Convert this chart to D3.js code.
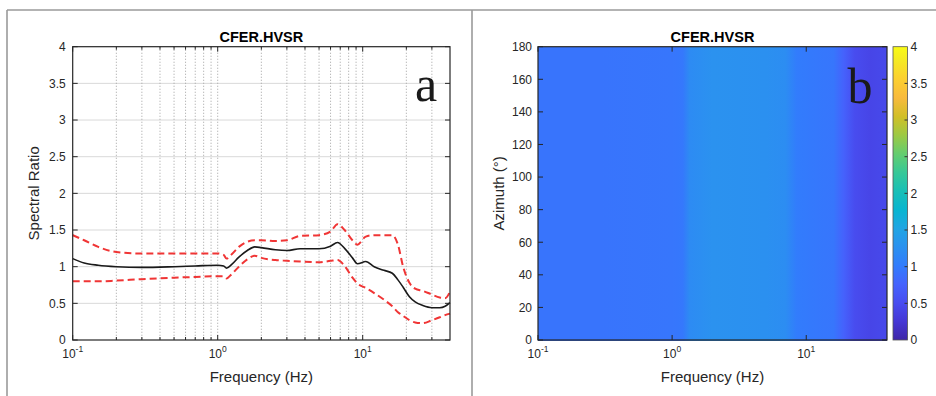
<!DOCTYPE html>
<html><head><meta charset="utf-8">
<script src="https://cdn.jsdelivr.net/npm/d3@7"></script>
<style>
body{margin:0;background:#fff}
svg{display:block}
text{font-family:"Liberation Sans",Arial,Helvetica,sans-serif;fill:#262626}
</style>
</head><body>
<svg id="chart" width="936" height="396"></svg>
<script>
// ---------- data ----------
const freq = [0.1,0.12,0.15,0.2,0.3,0.5,0.7,1.0,1.1,1.15,1.25,1.4,1.6,1.8,2.0,2.5,3.0,3.7,5.0,6.0,6.7,7.5,8.5,9.2,10.5,12,14,16,17.5,19,21,23,26,30,34,37,40];
const meanRatio = [1.11,1.05,1.02,1.00,0.99,1.00,1.01,1.02,1.01,0.98,1.03,1.13,1.22,1.27,1.26,1.23,1.22,1.245,1.245,1.28,1.33,1.25,1.12,1.04,1.07,1.00,0.95,0.91,0.82,0.72,0.59,0.52,0.47,0.44,0.44,0.46,0.51];
const upperRatio = [1.43,1.36,1.27,1.20,1.18,1.18,1.18,1.18,1.16,1.11,1.17,1.27,1.34,1.36,1.36,1.35,1.36,1.42,1.43,1.48,1.58,1.50,1.36,1.30,1.41,1.43,1.43,1.43,1.30,1.00,0.78,0.70,0.67,0.62,0.58,0.57,0.66];
const lowerRatio = [0.80,0.80,0.80,0.81,0.83,0.85,0.86,0.87,0.87,0.84,0.90,1.00,1.10,1.15,1.12,1.09,1.08,1.07,1.06,1.08,1.09,1.01,0.85,0.77,0.71,0.64,0.55,0.46,0.38,0.33,0.27,0.24,0.23,0.27,0.31,0.34,0.36];
const yTicksA = [0,0.5,1,1.5,2,2.5,3,3.5,4];
const yTickLabelsA = ["0","0.5","1","1.5","2","2.5","3","3.5","4"];
const xMajor = [0.1,1,10];
const xMajorExp = ["-1","0","1"];
const xMinor = [0.2,0.3,0.4,0.5,0.6,0.7,0.8,0.9,2,3,4,5,6,7,8,9,20,30];

const heatFreq = [0.1,0.3,1.0,1.2,1.35,2.0,5.0,7.0,8.5,12,16,19,23,30,40];
const heatValues = [0.93,0.93,0.95,0.98,1.2,1.28,1.26,1.22,1.02,0.98,0.95,0.75,0.5,0.42,0.46];
const azimuthBins = [0,10,20,30,40,50,60,70,80,90,100,110,120,130,140,150,160,170];
const yTicksB = [0,20,40,60,80,100,120,140,160,180];
const cbTicks = [0,0.5,1,1.5,2,2.5,3,3.5,4];
const cbTickLabels = ["0","0.5","1","1.5","2","2.5","3","3.5","4"];
const parula = [[0.2422,0.1504,0.6603],[0.2706,0.2147,0.8364],[0.2813,0.3006,0.9414],[0.2699,0.3892,0.9906],[0.1963,0.4847,0.9892],[0.1687,0.5703,0.9359],[0.1248,0.6459,0.8883],[0.0297,0.7082,0.8163],[0.0964,0.7500,0.7120],[0.2161,0.7843,0.5923],[0.3909,0.8029,0.4354],[0.6174,0.7876,0.2612],[0.8203,0.7498,0.1535],[0.9728,0.7298,0.2394],[0.9892,0.8136,0.1885],[0.9597,0.9135,0.1423],[0.9769,0.9839,0.0805]];
const parulaPos = [0,4,8,12,16,20,24,28,32,36,40,44,48,52,56,60,63];

// ---------- setup ----------
const svg = d3.select("#chart");
const defs = svg.append("defs");
const plotTop = 46.7, plotBottom = 340;
const TICK_FS = 12, LABEL_FS = 15, TITLE_FS = 14.5;
const parulaColors = parula.map(c => d3.rgb(c[0]*255,c[1]*255,c[2]*255).formatHex());
const cInterp = d3.scaleLinear().domain(parulaPos.map(p => p/63*4)).range(parulaColors).interpolate(d3.interpolateRgb).clamp(true);

// outer frame
const frame = svg.append("g").attr("stroke","#9a9a9a").attr("stroke-width",1.6);
frame.append("line").attr("x1",7).attr("x2",936).attr("y1",10).attr("y2",10);
frame.append("line").attr("x1",7).attr("x2",7).attr("y1",10).attr("y2",396);
frame.append("line").attr("x1",472).attr("x2",472).attr("y1",10).attr("y2",396);

function logLabels(g, scale, y) {
  xMajor.forEach((v,i) => {
    const t = g.append("text").attr("x", scale(v)).attr("y", y).attr("text-anchor","middle").attr("font-size",TICK_FS);
    t.append("tspan").text("10");
    t.append("tspan").attr("dy",-6).attr("font-size",8.5).text(xMajorExp[i]);
  });
}

// ---------- panel a ----------
const xA = d3.scaleLog().domain([0.1,40]).range([72.7,450]);
const yA = d3.scaleLinear().domain([0,4]).range([plotBottom, plotTop]);
const gA = svg.append("g");

// grid
gA.append("g").selectAll("line").data(yTicksA.slice(1,-1)).join("line")
  .attr("x1",xA.range()[0]).attr("x2",xA.range()[1])
  .attr("y1",d=>yA(d)).attr("y2",d=>yA(d))
  .attr("stroke","#d9d9d9").attr("stroke-width",1);
gA.append("g").selectAll("line").data(xMinor.concat([1,10])).join("line")
  .attr("x1",d=>xA(d)).attr("x2",d=>xA(d)).attr("y1",plotTop).attr("y2",plotBottom)
  .attr("stroke","#a8a8a8").attr("stroke-width",0.9).attr("stroke-dasharray","1.2,1.8");

// lines
const lineA = d3.line().x((d,i)=>xA(freq[i])).y(d=>yA(d)).curve(d3.curveMonotoneX);
gA.append("path").attr("d",lineA(upperRatio)).attr("fill","none").attr("stroke","#f03535").attr("stroke-width",2).attr("stroke-dasharray","7,4");
gA.append("path").attr("d",lineA(lowerRatio)).attr("fill","none").attr("stroke","#f03535").attr("stroke-width",2).attr("stroke-dasharray","7,4");
gA.append("path").attr("d",lineA(meanRatio)).attr("fill","none").attr("stroke","#1a1a1a").attr("stroke-width",1.6);

// axes ticks
function ticksA(){
  const g = gA.append("g").attr("stroke","#262626");
  [[plotBottom,-1],[plotTop,1]].forEach(([yy,dir])=>{
    g.append("g").selectAll("line").data(xMajor).join("line")
      .attr("x1",d=>xA(d)).attr("x2",d=>xA(d)).attr("y1",yy).attr("y2",yy+dir*5);
    g.append("g").selectAll("line").data(xMinor).join("line")
      .attr("x1",d=>xA(d)).attr("x2",d=>xA(d)).attr("y1",yy).attr("y2",yy+dir*3);
  });
  [[xA.range()[0],1],[xA.range()[1],-1]].forEach(([xx,dir])=>{
    g.append("g").selectAll("line").data(yTicksA).join("line")
      .attr("x1",xx).attr("x2",xx+dir*5).attr("y1",d=>yA(d)).attr("y2",d=>yA(d));
  });
}
ticksA();
gA.append("rect").attr("x",xA.range()[0]).attr("y",plotTop).attr("width",xA.range()[1]-xA.range()[0]).attr("height",plotBottom-plotTop)
  .attr("fill","none").attr("stroke","#262626").attr("stroke-width",1.2);

gA.append("g").selectAll("text").data(yTicksA).join("text")
  .attr("x",xA.range()[0]-7).attr("y",d=>yA(d)+4.3).attr("text-anchor","end").attr("font-size",TICK_FS)
  .text((d,i)=>yTickLabelsA[i]);
logLabels(gA, xA, 358);
gA.append("text").attr("x",(xA.range()[0]+xA.range()[1])/2).attr("y",382).attr("text-anchor","middle").attr("font-size",LABEL_FS).text("Frequency (Hz)");
gA.append("text").attr("transform",`translate(39,${(plotTop+plotBottom)/2}) rotate(-90)`).attr("text-anchor","middle").attr("font-size",LABEL_FS).text("Spectral Ratio");
gA.append("text").attr("x",(xA.range()[0]+xA.range()[1])/2).attr("y",42).attr("text-anchor","middle").attr("font-size",TITLE_FS).attr("font-weight","bold").style("fill","#000").text("CFER.HVSR");
gA.append("text").attr("x",426).attr("y",101).attr("text-anchor","middle").attr("font-size",50).style("font-family","'Liberation Serif','DejaVu Serif',serif").style("fill","#1a1a1a").text("a");

// ---------- panel b ----------
const xB = d3.scaleLog().domain([0.1,40]).range([538,887]);
const yB = d3.scaleLinear().domain([0,180]).range([plotBottom, plotTop]);
const gB = svg.append("g");
const x0 = xB.range()[0], x1 = xB.range()[1];
const hg = defs.append("linearGradient").attr("id","heat").attr("gradientUnits","userSpaceOnUse")
  .attr("x1",x0).attr("x2",x1).attr("y1",0).attr("y2",0);
heatFreq.forEach((f,i)=>{
  hg.append("stop").attr("offset",(xB(f)-x0)/(x1-x0)).attr("stop-color",cInterp(heatValues[i]));
});
gB.append("g").selectAll("rect").data(azimuthBins).join("rect")
  .attr("x",x0).attr("width",x1-x0)
  .attr("y",d=>yB(d+10)).attr("height",d=>yB(d)-yB(d+10)+0.5)
  .attr("fill","url(#heat)").attr("shape-rendering","crispEdges");

const tb = gB.append("g").attr("stroke","#262626");
[[plotBottom,-1],[plotTop,1]].forEach(([yy,dir])=>{
  tb.append("g").selectAll("line").data(xMajor).join("line")
    .attr("x1",d=>xB(d)).attr("x2",d=>xB(d)).attr("y1",yy).attr("y2",yy+dir*5);
});
[[x0,1],[x1,-1]].forEach(([xx,dir])=>{
  tb.append("g").selectAll("line").data(yTicksB).join("line")
    .attr("x1",xx).attr("x2",xx+dir*5).attr("y1",d=>yB(d)).attr("y2",d=>yB(d));
});
gB.append("rect").attr("x",x0).attr("y",plotTop).attr("width",x1-x0).attr("height",plotBottom-plotTop)
  .attr("fill","none").attr("stroke","#262626").attr("stroke-width",1.2);
gB.append("g").selectAll("text").data(yTicksB).join("text")
  .attr("x",x0-6).attr("y",d=>yB(d)+4.3).attr("text-anchor","end").attr("font-size",TICK_FS).text(d=>d);
logLabels(gB, xB, 358);
gB.append("text").attr("x",(x0+x1)/2).attr("y",382).attr("text-anchor","middle").attr("font-size",LABEL_FS).text("Frequency (Hz)");
gB.append("text").attr("transform",`translate(504,${(plotTop+plotBottom)/2}) rotate(-90)`).attr("text-anchor","middle").attr("font-size",LABEL_FS).text("Azimuth (°)");
gB.append("text").attr("x",(x0+x1)/2).attr("y",42).attr("text-anchor","middle").attr("font-size",TITLE_FS).attr("font-weight","bold").style("fill","#000").text("CFER.HVSR");
gB.append("text").attr("x",860).attr("y",103).attr("text-anchor","middle").attr("font-size",50).style("font-family","'Liberation Serif','DejaVu Serif',serif").style("fill","#1a1a1a").text("b");

// colorbar
const cbX = 893, cbW = 14.5;
const cbY = d3.scaleLinear().domain([0,4]).range([plotBottom, plotTop]);
const cg = defs.append("linearGradient").attr("id","cbar").attr("x1",0).attr("x2",0).attr("y1",1).attr("y2",0);
parulaColors.forEach((c,i)=>cg.append("stop").attr("offset",parulaPos[i]/63).attr("stop-color",c));
gB.append("rect").attr("x",cbX).attr("y",plotTop).attr("width",cbW).attr("height",plotBottom-plotTop).attr("fill","url(#cbar)")
  .attr("stroke","#555").attr("stroke-width",0.8);
gB.append("g").attr("stroke","#333").selectAll("line").data(cbTicks.slice(1,-1)).join("line")
  .attr("x1",cbX+cbW).attr("x2",cbX+cbW-3).attr("y1",d=>cbY(d)).attr("y2",d=>cbY(d));
gB.append("g").selectAll("text").data(cbTicks).join("text")
  .attr("x",cbX+cbW+3).attr("y",d=>cbY(d)+4.3).attr("font-size",TICK_FS).text((d,i)=>cbTickLabels[i]);
</script>
</body></html>
